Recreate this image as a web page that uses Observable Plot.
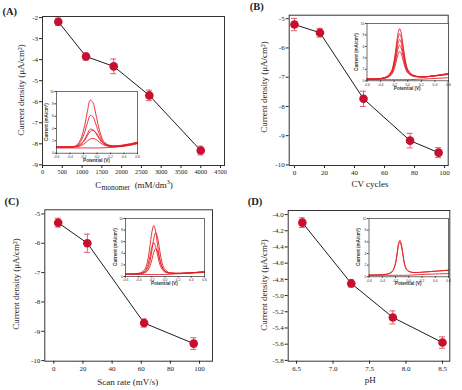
<!DOCTYPE html>
<html>
<head>
<meta charset="utf-8">
<script src="https://cdn.jsdelivr.net/npm/d3@7"></script>
<script src="https://cdn.jsdelivr.net/npm/@observablehq/plot@0.6"></script>
<style>
  body { margin: 0; background: #fff; }
  #fig { position: relative; width: 462px; height: 390px; overflow: hidden; background: #fff;
         font-family: "Liberation Serif", "DejaVu Serif", serif; color: #222; }
  #fig > svg { position: absolute; }
  .lbl { position: absolute; white-space: nowrap; line-height: 1; }
  .tag { font-weight: bold; font-size: 10.5px; }
  .axl { font-size: 9px; }
  .inl { font-family: "Liberation Sans", Arial, sans-serif; font-size: 4.6px; font-weight: bold; color: #333; }
  sub { font-size: 7.5px; vertical-align: -2px; }
  sup { font-size: 6px; vertical-align: 4px; }
</style>
</head>
<body>
<div id="fig"></div>
<script>
// ---- (A) current density vs monomer concentration ----
const concA = [400, 1100, 1800, 2700, 4000];
const densA = [-2.2, -3.85, -4.32, -5.7, -8.32];
const errA  = [0.17, 0.17, 0.35, 0.25, 0.21];
const ticksAx = [0, 500, 1000, 1500, 2000, 2500, 3000, 3500, 4000, 4500];
const ticksAy = [-9, -8, -7, -6, -5, -4, -3, -2];

// ---- (B) current density vs CV cycles ----
const cyclesB = [0, 17, 46, 77, 96];
const densB   = [-5.2, -5.48, -7.74, -9.17, -9.58];
const errB    = [0.21, 0.15, 0.26, 0.25, 0.17];
const ticksBx = [0, 20, 40, 60, 80, 100];
const ticksBy = [-10, -9, -8, -7, -6, -5];

// ---- (C) current density vs scan rate ----
const rateC  = [3, 23, 62, 96];
const densC  = [-5.3, -6.0, -8.72, -9.42];
const errC   = [0.15, 0.31, 0.14, 0.2];
const ticksCx = [0, 20, 40, 60, 80, 100];
const ticksCy = [-10, -9, -8, -7, -6, -5];

// ---- (D) current density vs pH ----
const phD   = [6.58, 7.25, 7.82, 8.5];
const densD = [-4.1, -4.85, -5.27, -5.58];
const errD  = [0.06, 0.045, 0.08, 0.07];
const ticksDx = [6.5, 7.0, 7.5, 8.0, 8.5];
const ticksDy = [-5.8, -5.6, -5.4, -5.2, -5.0, -4.8, -4.6, -4.4, -4.2, -4.0];

// ---- inset voltammograms: potential (V) and current (mA/cm²) ----
const insetPotTicks = [-0.6, -0.4, -0.2, 0.0, 0.2, 0.4, 0.6];
const insetCurTicks = [0, 2, 4, 6, 8, 10];

const potA = [-0.6, -0.45, -0.35, -0.3, -0.24, -0.18, -0.14, -0.1, -0.06, -0.02, 0.04, 0.1, 0.18, 0.28, 0.4, 0.5, 0.6];
const cvA1 = [1.0, 1.0, 1.05, 1.3, 2.3, 4.6, 6.9, 8.6, 8.2, 6.5, 3.6, 1.9, 1.3, 1.2, 1.35, 1.55, 1.8];
const cvA2 = [1.0, 1.0, 1.04, 1.2, 1.9, 3.5, 5.0, 6.1, 5.9, 4.8, 2.9, 1.7, 1.25, 1.15, 1.3, 1.5, 1.75];
const cvA3 = [1.0, 1.0, 1.03, 1.12, 1.5, 2.3, 3.2, 3.9, 3.8, 3.3, 2.2, 1.5, 1.2, 1.1, 1.25, 1.45, 1.7];
const cvA4 = [1.0, 1.0, 1.02, 1.1, 1.4, 2.1, 2.9, 3.5, 3.7, 3.4, 2.4, 1.6, 1.2, 1.1, 1.2, 1.4, 1.65];
const cvA5 = [1.0, 1.0, 1.0, 1.05, 1.2, 1.6, 2.0, 2.3, 2.4, 2.25, 1.75, 1.35, 1.1, 1.05, 1.15, 1.3, 1.55];
const cvA0 = [0.85, 0.85, 0.85, 0.85, 0.85, 0.85, 0.85, 0.85, 0.85, 0.85, 0.85, 0.88, 0.92, 1.0, 1.15, 1.35, 1.6];

const potB = [-0.6, -0.45, -0.37, -0.3, -0.24, -0.2, -0.16, -0.14, -0.12, -0.1, -0.08, -0.04, 0.0, 0.06, 0.13, 0.23, 0.4, 0.6];
const cvB1 = [0.3, 0.34, 0.47, 0.82, 1.68, 3.59, 6.92, 8.44, 9.1, 8.54, 7.12, 3.89, 1.98, 1.12, 0.79, 0.7, 0.9, 1.3];
const cvB2 = [0.3, 0.34, 0.46, 0.77, 1.54, 3.24, 6.24, 7.61, 8.2, 7.71, 6.44, 3.55, 1.84, 1.07, 0.78, 0.7, 0.9, 1.25];
const cvB3 = [0.3, 0.33, 0.44, 0.71, 1.38, 2.87, 5.48, 6.68, 7.2, 6.78, 5.68, 3.17, 1.68, 1.0, 0.75, 0.68, 0.88, 1.2];
const cvB4 = [0.3, 0.33, 0.42, 0.65, 1.22, 2.49, 4.72, 5.75, 6.2, 5.85, 4.92, 2.79, 1.52, 0.95, 0.73, 0.67, 0.86, 1.15];
const cvB5 = [0.3, 0.32, 0.39, 0.58, 1.04, 2.07, 3.88, 4.72, 5.1, 4.82, 4.08, 2.37, 1.34, 0.88, 0.71, 0.66, 0.84, 1.1];
const cvB0 = [0.2, 0.2, 0.2, 0.2, 0.2, 0.2, 0.2, 0.2, 0.2, 0.2, 0.2, 0.2, 0.2, 0.22, 0.25, 0.3, 0.4, 0.55];

const potC = [-0.6, -0.45, -0.37, -0.31, -0.27, -0.23, -0.2, -0.17, -0.14, -0.11, -0.08, -0.05, -0.01, 0.05, 0.12, 0.25, 0.6];
const cvC1 = [0.4, 0.48, 0.65, 1.15, 2.4, 5.09, 7.61, 8.8, 7.65, 5.17, 3.02, 1.77, 1.0, 0.65, 0.58, 0.55, 0.8];
const cvC2 = [0.4, 0.44, 0.51, 0.75, 1.25, 2.54, 4.4, 6.54, 7.55, 6.58, 4.48, 2.64, 1.35, 0.73, 0.57, 0.55, 0.8];
const cvC3 = [0.4, 0.45, 0.56, 0.88, 1.69, 3.43, 5.06, 5.83, 5.1, 3.51, 2.13, 1.33, 0.82, 0.59, 0.55, 0.55, 0.8];
const cvC4 = [0.4, 0.42, 0.46, 0.62, 0.92, 1.72, 2.86, 4.18, 4.8, 4.22, 2.94, 1.82, 1.02, 0.63, 0.54, 0.55, 0.8];
const cvC0 = [0.35, 0.35, 0.35, 0.35, 0.35, 0.35, 0.35, 0.35, 0.35, 0.35, 0.35, 0.35, 0.35, 0.37, 0.42, 0.5, 0.7];

const potD = [-0.6, -0.45, -0.35, -0.29, -0.25, -0.21, -0.18, -0.155, -0.135, -0.115, -0.09, -0.06, -0.02, 0.04, 0.12, 0.25, 0.6];
const cvD1 = [0.3, 0.33, 0.42, 0.6, 0.9, 1.91, 3.7, 5.68, 6.3, 5.72, 4.1, 2.06, 1.1, 0.79, 0.74, 0.83, 1.15];
const cvD2 = [0.3, 0.33, 0.41, 0.58, 0.87, 1.83, 3.51, 5.41, 6.0, 5.45, 3.91, 1.98, 1.07, 0.78, 0.73, 0.83, 1.12];
const cvD0 = [0.25, 0.25, 0.25, 0.25, 0.25, 0.25, 0.25, 0.25, 0.25, 0.25, 0.25, 0.25, 0.27, 0.3, 0.35, 0.42, 0.55];

const fig = document.getElementById("fig");
const RED = "#c8102e", ERR = "#e25a72", CV = "#e41e26";

function place(svg, left, top) {
  svg.style.left = left + "px";
  svg.style.top = top + "px";
  fig.append(svg);
}

function text(html, x, y, cls, rotate) {
  const d = document.createElement("div");
  d.className = "lbl " + cls;
  d.innerHTML = html;
  d.style.left = x + "px";
  d.style.top = y + "px";
  d.style.transform = "translate(-50%,-50%)" + (rotate ? " rotate(-90deg)" : "");
  fig.append(d);
}

// Scatter with error bars and a connecting line
function mainPanel(c) {
  const rows = c.x.map((x, i) => ({x, y: c.y[i], e: c.err[i]}));
  const innerW = c.width - c.ml - c.mr;
  const cap = 3 * (c.xDomain[1] - c.xDomain[0]) / innerW;
  const svg = Plot.plot({
    width: c.width, height: c.height,
    marginLeft: c.ml, marginRight: c.mr, marginTop: c.mt, marginBottom: c.mb,
    style: {fontFamily: "'Liberation Serif', serif", fontSize: "7px", color: "#222", background: "transparent", overflow: "visible"},
    x: {domain: c.xDomain},
    y: {domain: c.yDomain},
    marks: [
      Plot.axisX({ticks: c.xTicks, tickSize: 3, tickPadding: 1.5, label: null, tickFormat: c.xFmt, fontSize: c.xFont || 7}),
      Plot.axisY({ticks: c.yTicks, tickSize: 3, tickPadding: 1.5, label: null, tickFormat: c.yFmt}),
      Plot.frame({stroke: "#333", strokeWidth: 1}),
      Plot.line(rows, {x: "x", y: "y", stroke: "#1c1c1c", strokeWidth: 1}),
      Plot.ruleX(rows, {x: "x", y1: d => d.y - d.e, y2: d => d.y + d.e, stroke: ERR, strokeWidth: 1}),
      Plot.ruleY(rows, {y: d => d.y + d.e, x1: d => d.x - cap, x2: d => d.x + cap, stroke: ERR, strokeWidth: 1}),
      Plot.ruleY(rows, {y: d => d.y - d.e, x1: d => d.x - cap, x2: d => d.x + cap, stroke: ERR, strokeWidth: 1}),
      Plot.dot(rows, {x: "x", y: "y", r: 4.3, fill: RED, stroke: "none"})
    ]
  });
  place(svg, c.left, c.top);
}

// Small voltammogram inset
function inset(c) {
  const rows = c.curves.flatMap((cur, k) => c.pot.map((p, i) => ({p, v: cur[i], k})));
  const svg = Plot.plot({
    width: c.width, height: c.height,
    marginLeft: c.ml, marginRight: c.mr, marginTop: c.mt, marginBottom: c.mb,
    style: {fontFamily: "'Liberation Sans', sans-serif", fontSize: "3.4px", color: "#333", background: "transparent", overflow: "visible"},
    x: {domain: [-0.6, 0.6]},
    y: {domain: [0, 10]},
    marks: [
      Plot.frame({fill: "#fff", stroke: "none"}),
      Plot.axisX({ticks: insetPotTicks, tickSize: 1.5, tickPadding: 1, label: null, tickFormat: d => d.toFixed(1)}),
      Plot.axisY({ticks: insetCurTicks, tickSize: 1.5, tickPadding: 1, label: null}),
      Plot.line(rows, {x: "p", y: "v", z: "k", stroke: CV, strokeWidth: 1, strokeOpacity: 0.9, curve: "catmull-rom"}),
      Plot.frame({stroke: "#333", strokeWidth: 0.7})
    ]
  });
  place(svg, c.left, c.top);
  const cx = c.left + c.ml + (c.width - c.ml - c.mr) / 2;
  const cy = c.top + c.mt + (c.height - c.mt - c.mb) / 2;
  text("Potential (V)", cx, c.top + c.height - c.mb + 8.5, "inl");
  text("Current (mA/cm²)", c.left + c.ml - 9.5, cy, "inl", true);
}

const intFmt = d => String(d);

mainPanel({left: 0, top: 0, width: 231, height: 195, ml: 42, mr: 7, mt: 16, mb: 30,
  xDomain: [0, 4600], yDomain: [-9.03, -1.95], xTicks: ticksAx, yTicks: ticksAy,
  xFmt: intFmt, yFmt: intFmt, xFont: 6.3, x: concA, y: densA, err: errA});
mainPanel({left: 231, top: 0, width: 231, height: 195, ml: 57.7, mr: 14.3, mt: 14.7, mb: 30,
  xDomain: [-3.5, 102.4], yDomain: [-10.02, -4.88], xTicks: ticksBx, yTicks: ticksBy,
  xFmt: intFmt, yFmt: intFmt, x: cyclesB, y: densB, err: errB});
mainPanel({left: 0, top: 195, width: 231, height: 195, ml: 44.3, mr: 19, mt: 14.3, mb: 29.3,
  xDomain: [-6.2, 108.9], yDomain: [-10.02, -4.86], xTicks: ticksCx, yTicks: ticksCy,
  xFmt: intFmt, yFmt: intFmt, x: rateC, y: densC, err: errC});
mainPanel({left: 231, top: 195, width: 231, height: 195, ml: 56.7, mr: 12.7, mt: 15, mb: 29.3,
  xDomain: [6.386, 8.6], yDomain: [-5.81, -3.95], xTicks: ticksDx, yTicks: ticksDy,
  xFmt: d => d.toFixed(1), yFmt: d => d.toFixed(1), x: phD, y: densD, err: errD});

inset({left: 44, top: 87, width: 96, height: 76.7, ml: 12, mt: 4, mr: 3, mb: 11,
  pot: potA, curves: [cvA0, cvA5, cvA4, cvA3, cvA2, cvA1]});
inset({left: 353, top: 19, width: 98, height: 74.3, ml: 13.5, mt: 4, mr: 3, mb: 13,
  pot: potB, curves: [cvB0, cvB5, cvB4, cvB3, cvB2, cvB1]});
inset({left: 112, top: 213.5, width: 95, height: 74.5, ml: 13, mt: 4, mr: 3, mb: 12.5,
  pot: potC, curves: [cvC0, cvC4, cvC3, cvC2, cvC1]});
inset({left: 355, top: 213.5, width: 96, height: 74.8, ml: 13.5, mt: 4, mr: 3, mb: 12.5,
  pot: potD, curves: [cvD0, cvD2, cvD1]});

// Panel tags
text("(A)", 9.7, 11.7, "tag");
text("(B)", 256.8, 6.7, "tag");
text("(C)", 11.7, 202.3, "tag");
text("(D)", 255, 202.3, "tag");

// Axis titles
text("C<sub>monomer</sub>&nbsp;&nbsp;(mM/dm<sup>3</sup>)", 134, 185, "axl");
text("CV cycles", 370, 184.3, "axl");
text("Scan rate (mV/s)", 127.7, 381.7, "axl");
text("pH", 370.3, 380, "axl");
text("Current density (μA/cm²)", 20.7, 90, "axl", true);
text("Current density (μA/cm²)", 264.3, 87, "axl", true);
text("Current density (μA/cm²)", 16, 284, "axl", true);
text("Current density (μA/cm²)", 264.3, 285, "axl", true);
</script>
</body>
</html>
